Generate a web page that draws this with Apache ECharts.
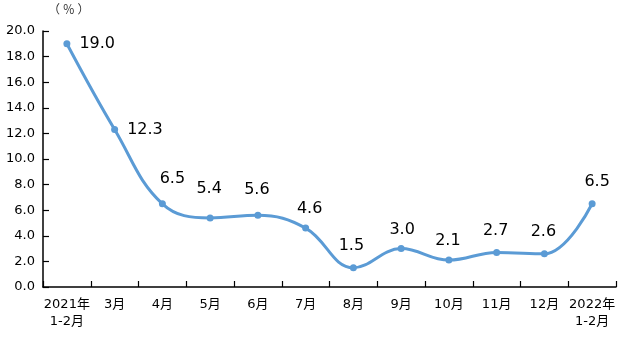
<!DOCTYPE html>
<html>
<head>
<meta charset="utf-8">
<script src="https://cdn.jsdelivr.net/npm/echarts@6/dist/echarts.min.js"></script>
<style>
html,body{margin:0;padding:0;background:#fff;}
#chart{width:626px;height:337px;}
</style>
</head>
<body>
<div id="chart"></div>
<script>
// Monthly growth rate, Jan–Feb 2021 to Jan–Feb 2022 (%)
const categories = ['2021年\n1-2月', '3月', '4月', '5月', '6月', '7月', '8月', '9月', '10月', '11月', '12月', '2022年\n1-2月'];
const values = [19.0, 12.3, 6.5, 5.4, 5.6, 4.6, 1.5, 3.0, 2.1, 2.7, 2.6, 6.5];
const yTicks = [0, 2, 4, 6, 8, 10, 12, 14, 16, 18, 20];

// label placement tweaks per point: [position, dx, dy]
const labelPlace = [
  ['right', 4, 0], ['right', 4, 0], ['top', 10, -8], ['top', -1, -13], ['top', -1, -9],
  ['top', 4, -3], ['top', -2, -5], ['top', 1, -2], ['top', -1, -3], ['top', -1, -5],
  ['top', -1, -5], ['top', 5, -5]
];

const chart = echarts.init(document.getElementById('chart'), null, { renderer: 'canvas' });
const fontFam = '"DejaVu Sans", "Noto Sans CJK SC", sans-serif';

chart.setOption({
  animation: false,
  backgroundColor: '#fff',
  grid: { left: 43, right: 10, top: 31, bottom: 50 },
  graphic: [{
    type: 'text', left: 48, top: 3,
    style: { text: '（ ％ ）', fontSize: 12, fill: '#333', fontFamily: '"Noto Sans CJK SC", sans-serif' }
  }],
  xAxis: {
    type: 'category',
    data: categories,
    boundaryGap: true,
    axisLine: { show: true, lineStyle: { color: '#000', width: 1.5 } },
    axisTick: { show: true, inside: true, length: 6, interval: 0, lineStyle: { color: '#000', width: 1.2 } },
    axisLabel: { color: '#000', fontSize: 13, fontFamily: fontFam, interval: 0, margin: 9, lineHeight: 17 }
  },
  yAxis: {
    type: 'value',
    min: yTicks[0], max: yTicks[yTicks.length - 1], interval: 2,
    axisLine: { show: true, lineStyle: { color: '#000', width: 1.5 } },
    axisTick: { show: true, inside: true, length: 6, lineStyle: { color: '#000', width: 1.2 } },
    splitLine: { show: false },
    axisLabel: { color: '#000', fontSize: 13, fontFamily: fontFam, margin: 8, formatter: v => v.toFixed(1) }
  },
  series: [{
    type: 'line',
    smooth: 0.4,
    data: values.map((v, i) => ({
      value: v,
      label: { position: labelPlace[i][0], offset: [labelPlace[i][1], labelPlace[i][2]] }
    })),
    symbol: 'circle',
    symbolSize: 7,
    lineStyle: { color: '#5B9BD5', width: 3 },
    itemStyle: { color: '#5B9BD5' },
    label: {
      show: true, color: '#000', fontSize: 16, fontFamily: fontFam,
      formatter: p => p.value.toFixed(1)
    }
  }]
});
</script>
</body>
</html>
